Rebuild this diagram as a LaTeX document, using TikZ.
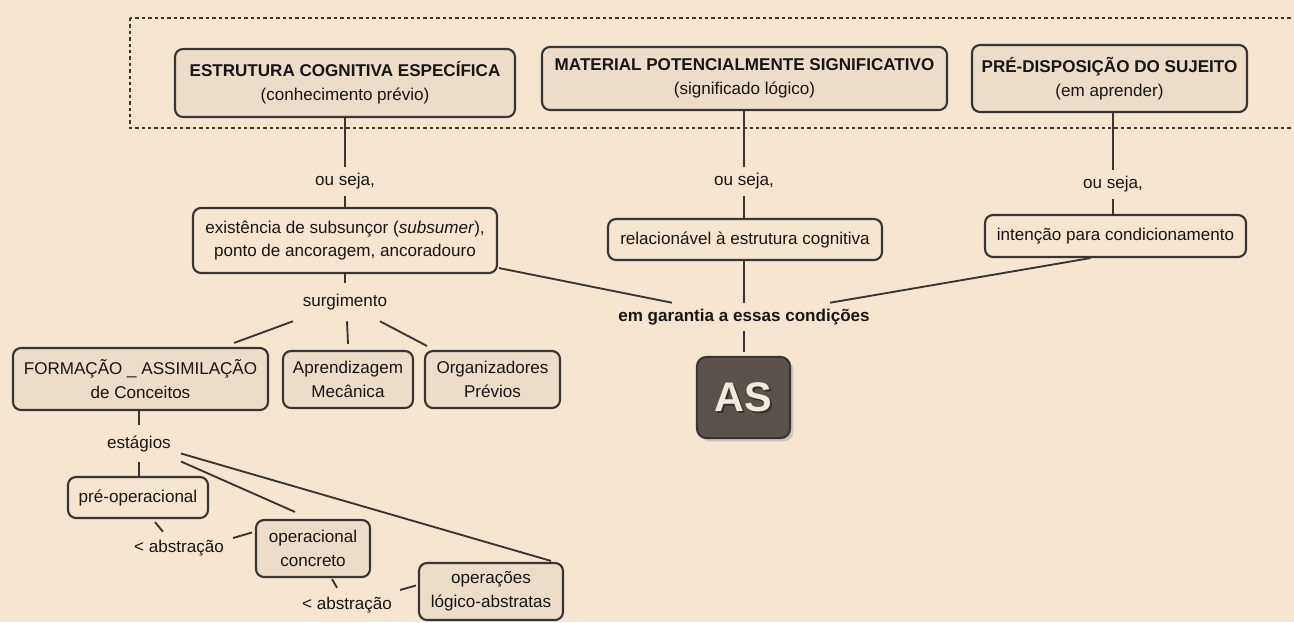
\documentclass[tikz,border=0pt]{standalone}
\usepackage{fontspec}
\setmainfont{Liberation Sans}
\usetikzlibrary{calc,shadows}
\definecolor{bg}{HTML}{F6E5D1}
\definecolor{boxfill}{HTML}{ECDCCA}
\definecolor{edge}{HTML}{383634}
\definecolor{ink}{HTML}{161616}
\definecolor{asfill}{HTML}{5B534B}
\definecolor{astext}{HTML}{F4EADB}
\begin{document}
\begin{tikzpicture}[x=0.75pt,y=-0.75pt,
  every node/.style={font=\fontsize{12.8}{17.8}\selectfont, text=ink, inner sep=0pt, align=center},
  cbox/.style={draw=edge, line width=1.6pt, rounded corners=6pt},
  fbox/.style={cbox, fill=boxfill},
  pbox/.style={cbox, fill=bg},
  wh/.style 2 args={minimum width=#1*0.75pt, minimum height=#2*0.75pt},
  conn/.style={draw=edge, line width=1.4pt},
  gapend/.style={shorten >=3pt},
  asfont/.style={font=\fontsize{31}{31}\selectfont\bfseries}
  ]
\fill[bg] (0,0) rectangle (1294,622);
\useasboundingbox (0,0) rectangle (1294,622);

% dotted frame
\draw[edge, line width=2pt, dash pattern=on 2.6pt off 2.2pt] (130,18) rectangle (1330,128);

% top boxes
\node[fbox, wh={340}{68}] (B1) at (345,83) {{\bfseries ESTRUTURA COGNITIVA ESPECÍFICA}\\(conhecimento prévio)};
\node[fbox, wh={405}{63}] (B2) at (744.5,78.5) {{\bfseries MATERIAL POTENCIALMENTE SIGNIFICATIVO}\\(significado lógico)};
\node[fbox, wh={275}{67}] (B3) at (1109.5,78.5) {{\bfseries PRÉ-DISPOSIÇÃO DO SUJEITO}\\(em aprender)};

% middle row
\node[pbox, wh={304}{65}] (B4) at (345,240.5) {existência de subsunçor (\textit{subsumer}),\\ponto de ancoragem, ancoradouro};
\node[pbox, wh={274}{41}] (B5) at (745,239.5) {relacionável à estrutura cognitiva};
\node[pbox, wh={261}{42}] (B6) at (1115.5,236) {intenção para condicionamento};

% lower row
\node[fbox, wh={255}{62}] (B7) at (140.5,379) {FORMAÇÃO \_ ASSIMILAÇÃO\\de Conceitos};
\node[fbox, wh={130}{57}] (B8) at (348,379.5) {Aprendizagem\\Mecânica};
\node[fbox, wh={135}{57}] (B9) at (492.5,379.5) {Organizadores\\Prévios};

% stages
\node[pbox, wh={140}{41}] (B10) at (138,497.5) {pré-operacional};
\node[fbox, wh={114}{57}] (B11) at (313,548.5) {operacional\\concreto};
\node[fbox, wh={144}{57}] (B12) at (491,591.5) {operações\\lógico-abstratas};

% AS
\node[draw=edge, line width=1.6pt, rounded corners=7pt, fill=asfill,
      drop shadow={shadow xshift=2.5pt, shadow yshift=-2.5pt, fill=black!35, opacity=0.5},
      wh={93}{81}] (AS) at (743.5,397.5) {};
\node[asfont, text=black!80] (ASsh) at ($(AS.center)+(1.5,1.5)$) {AS};
\node[asfont, text=astext] (AStxt) at (AS.center) {AS};

% linking phrases
\node[wh={70}{29}] (L1) at (345,181.5) {ou seja,};
\node[wh={70}{29}] (L2) at (744,181.5) {ou seja,};
\node[wh={70}{29}] (L3) at (1113,184.5) {ou seja,};
\node[wh={100}{38}] (surg) at (345,302) {surgimento};
\node[wh={260}{28}] (garant) at (744,317) {\bfseries em garantia a essas condições};
\node[wh={70}{37}] (est) at (139,443.5) {estágios};
\node[wh={95}{32}] (abs1) at (179,548) {< abstração};
\node[wh={95}{34}] (abs2) at (347,605) {< abstração};

% connectors
\draw[conn] (B1.south) -- (L1.north);
\draw[conn] (L1.south) -- (B4.north);
\draw[conn] (L2.north |- B2.south) -- (L2.north);
\draw[conn] (L2.south) -- (L2.south |- B5.north);
\draw[conn] (L3.north |- B3.south) -- (L3.north);
\draw[conn] (L3.south) -- (L3.south |- B6.north);

\draw[conn] (B4.south) -- (surg.north);
\draw[conn] ($(surg.south)+(-52,0)$) -- ($(B7.north east)+(-35,-4)$);
\draw[conn] ($(surg.south)+(2,0)$) -- ($(B8.north)+(0,-6)$);
\draw[conn] ($(surg.south)+(35,0)$) -- ($(B9.north west)+(3,-4)$);

\draw[conn] ($(B4.south east)+(1,-6)$) -- ($(garant.north)+(-72,0)$);
\draw[conn] (garant.north |- B5.south) -- (garant.north);
\draw[conn] ($(B6.south)+(-25,0)$) -- ($(garant.north)+(86,0)$);
\draw[conn, gapend] (garant.south) -- (garant.south |- AS.north);

\draw[conn] (est.north |- B7.south) -- (est.north);
\draw[conn] (est.south) -- (est.south |- B10.north);
\draw[conn] ($(est.center)+(42,10)$) -- ($(B12.north east)+(-13,-1)$);
\draw[conn] ($(est.center)+(42,18)$) -- ($(B11.north)+(-18,-7)$);

\draw[conn] ($(B10.south)+(17,3)$) -- ($(abs1.north)+(-16,0)$);
\draw[conn] ($(abs1.center)+(54,-10)$) -- ($(B11.west)+(-3,-16)$);
\draw[conn] ($(B11.south)+(19,1)$) -- ($(abs2.north)+(-10,0)$);
\draw[conn] ($(abs2.center)+(53,-15)$) -- ($(B12.west)+(-2,-6)$);
\end{tikzpicture}
\end{document}
